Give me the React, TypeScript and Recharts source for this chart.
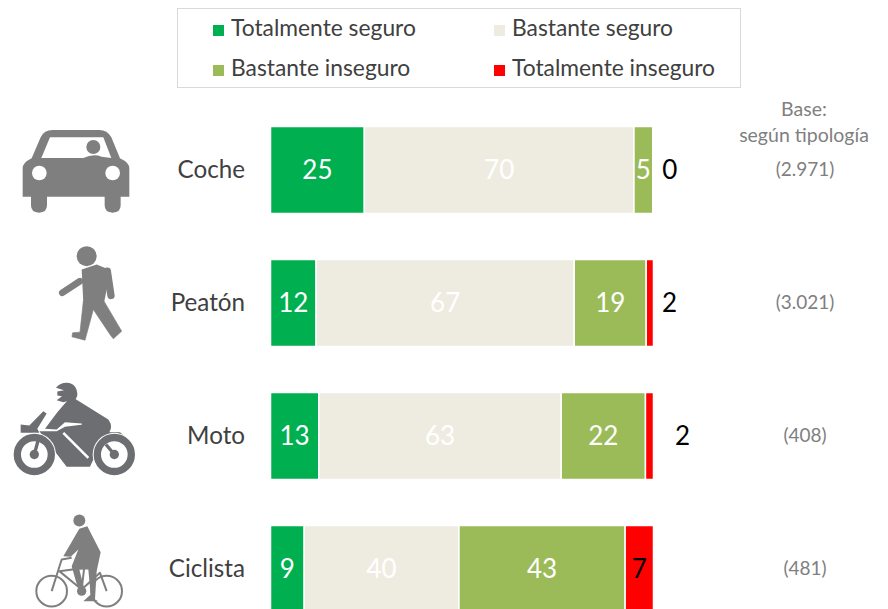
import { Bar, BarChart, LabelList, XAxis, YAxis } from "recharts"

const categories = ["Coche", "Peatón", "Moto", "Ciclista"]
const bases = ["(2.971)", "(3.021)", "(408)", "(481)"]
const totalmenteSeguro = [24.5, 11.9, 12.6, 8.8]
const bastanteSeguro = [70.4, 67.4, 63.3, 40.4]
const bastanteInseguro = [4.9, 18.8, 22, 43.4]
const totalmenteInseguro = [0.01, 1.9, 2.1, 7.4]

const seriesNames = ["Totalmente seguro", "Bastante seguro", "Bastante inseguro", "Totalmente inseguro"]
const seriesColors = ["#00b050", "#eeece1", "#9bbb59", "#ff0000"]

const data = categories.map((name, i) => ({
  name,
  base: bases[i],
  s1: totalmenteSeguro[i],
  s2: bastanteSeguro[i],
  s3: bastanteInseguro[i],
  s4: totalmenteInseguro[i],
}))

const font = "Lato, 'Open Sans', sans-serif"
const centers = [170, 303.5, 436.5, 569.5]
// red values that sit outside of the bar, px from the bar end
const outsideShift = [17, 16, 29, 0]

const CarIcon = () => (
  <g transform="translate(0,100) scale(0.3333)" fill="#7f7f7f">
    <path d="M68 205 Q68 188 95 175 L122 112 Q132 90 158 90 L298 90 Q322 90 334 112 L360 175 Q388 188 388 205 L388 290 L362 290 L362 316 Q362 338 338 338 Q314 338 314 316 L314 290 L141 290 L141 316 Q141 338 117 338 Q93 338 93 316 L93 290 L68 290 Z" />
    <path d="M124 174 L150 112 L310 112 L334 174 L305 170 Q280 160 250 174 Z" fill="#fff" />
    <circle cx="280" cy="141" r="21" />
    <circle cx="118" cy="219" r="22" fill="#fff" />
    <circle cx="338" cy="219" r="22" fill="#fff" />
  </g>
)

const WalkerIcon = () => (
  <g transform="translate(0,100) scale(0.3333)" stroke="#7f7f7f" fill="none" strokeLinecap="round" strokeLinejoin="round">
    <circle cx="260" cy="470" r="30" fill="#7f7f7f" stroke="none" />
    <path d="M245 510 L290 495 L332 512 L312 610 L250 610 Z" fill="#7f7f7f" stroke="none" />
    <path d="M240 545 L187 580" strokeWidth="20" />
    <path d="M322 515 L333 588" strokeWidth="22" />
    <path d="M250 605 L240 698 L218 700 L216 712 L255 722 L280 630 L330 705 L340 718 L365 695 L312 605 Z" fill="#7f7f7f" strokeWidth="2" />
  </g>
)

const MotoIcon = () => (
  <g transform="translate(0,370) scale(0.3333)" fill="#6d6e71">
    <path d="M168 55 Q180 40 200 40 Q232 42 232 78 L228 88 L190 98 L170 92 L186 80 L172 78 L172 66 L192 62 Z" />
    <path d="M172 128 L205 90 L225 88 L325 150 Q340 170 328 188 L250 188 L245 162 L195 158 L170 180 L135 178 Z" />
    <path d="M62 165 L88 168 L130 125 L140 132 L112 178 L118 190 L62 190 Z" />
    <path d="M118 185 L170 185 L195 172 L250 165 L330 188 L360 188 L392 215 L280 270 L270 292 L200 292 Z" />
    <path d="M190 190 L265 265" stroke="#fff" strokeWidth="8" />
    <circle cx="103" cy="255" r="65" fill="#fff" />
    <circle cx="343" cy="255" r="65" fill="#fff" />
    <circle cx="103" cy="255" r="51" fill="#fff" stroke="#6d6e71" strokeWidth="22" />
    <circle cx="343" cy="255" r="51" fill="#fff" stroke="#6d6e71" strokeWidth="22" />
    <circle cx="103" cy="255" r="14" />
    <circle cx="343" cy="255" r="14" />
    <path d="M103 255 L115 210 M343 255 L318 225" stroke="#6d6e71" strokeWidth="10" />
  </g>
)

const BikeIcon = () => (
  <g transform="translate(0,370) scale(0.3333)" fill="none" stroke="#7f7f7f" strokeLinejoin="round">
    <circle cx="155" cy="665" r="46" strokeWidth="6" />
    <circle cx="320" cy="665" r="46" strokeWidth="6" />
    <path d="M155 665 L185 570 L215 565 M178 605 L245 660 L300 610 L320 665 M178 605 L290 590 M255 575 L245 660" strokeWidth="6" />
    <circle cx="238" cy="453" r="18" fill="#7f7f7f" stroke="none" />
    <path d="M238 478 L262 470 L302 548 L290 605 L285 690 L295 695 L250 695 L272 675 L265 600 L238 600 L252 655 L232 650 L215 590 L235 540 L212 562 L190 560 Z" fill="#7f7f7f" stroke="none" />
    <circle cx="245" cy="665" r="14" fill="#7f7f7f" stroke="none" />
  </g>
)

const icons = [CarIcon, WalkerIcon, MotoIcon, BikeIcon]

const CategoryTick = ({ y, payload, index }: any) => {
  const Icon = icons[index]
  return (
    <g>
      <g transform={`translate(0,${y - centers[index]})`}>
        <Icon />
      </g>
      <text x={245} y={y} dy={8} textAnchor="end" fontSize={24.2} fill="#404040" fontFamily={font}>
        {payload.value}
      </text>
    </g>
  )
}

const BaseTick = ({ y, payload }: any) => (
  <text x={805} y={y} dy={6} textAnchor="middle" fontSize={19} fill="#7f7f7f" fontFamily={font}>
    {payload.value}
  </text>
)

const SegmentLabel = ({ x, y, width, height, value }: any) => (
  <text x={x + width / 2} y={y + height / 2} dy={9} textAnchor="middle" fontSize={26} fill="#fff" fontFamily={font}>
    {Math.round(value)}
  </text>
)

const RedLabel = ({ x, y, width, height, value, index }: any) => {
  const shift = outsideShift[index]
  const cx = shift ? x + width + shift : x + width / 2
  return (
    <text x={cx} y={y + height / 2} dy={9} textAnchor="middle" fontSize={26} fill="#000" fontFamily={font}>
      {Math.round(value)}
    </text>
  )
}

const legendSpots = [
  { left: 213, top: 21 },
  { left: 494, top: 21 },
  { left: 213, top: 61 },
  { left: 494, top: 61 },
]

export default function App() {
  return (
    <div style={{ position: "absolute", left: 0, top: 0, width: 888, height: 609, overflow: "hidden", background: "#fff" }}>
      <BarChart
        width={888}
        height={650}
        layout="vertical"
        data={data}
        margin={{ top: 103.5, right: 0, bottom: 14.5, left: 0 }}
      >
        <XAxis type="number" domain={[0, 100]} hide />
        <YAxis yAxisId="left" type="category" dataKey="name" width={270.5} axisLine={false} tickLine={false} tick={<CategoryTick />} interval={0} />
        <YAxis yAxisId="right" orientation="right" type="category" dataKey="base" width={234.5} axisLine={false} tickLine={false} tick={<BaseTick />} interval={0} />
        {["s1", "s2", "s3"].map((key, i) => (
          <Bar key={key} yAxisId="left" dataKey={key} stackId="a" barSize={87} fill={seriesColors[i]} stroke="#fff" strokeWidth={1.5} isAnimationActive={false}>
            <LabelList dataKey={key} content={<SegmentLabel />} />
          </Bar>
        ))}
        <Bar yAxisId="left" dataKey="s4" stackId="a" barSize={87} fill={seriesColors[3]} stroke="#fff" strokeWidth={1.5} isAnimationActive={false}>
          <LabelList dataKey="s4" content={<RedLabel />} />
        </Bar>
      </BarChart>
      <div style={{ position: "absolute", left: 177, top: 8, width: 562, height: 78, border: "1px solid #d9d9d9" }} />
      {seriesNames.map((name, i) => (
        <div key={name} style={{ position: "absolute", left: legendSpots[i].left, top: legendSpots[i].top, fontFamily: font, fontSize: 22.8, color: "#404040", lineHeight: "12px", whiteSpace: "nowrap" }}>
          <span style={{ display: "inline-block", width: 11, height: 11, background: seriesColors[i], marginRight: 7 }} />
          {name}
        </div>
      ))}
      <div style={{ position: "absolute", left: 724, top: 96, width: 160, textAlign: "center", fontFamily: font, fontSize: 19.5, lineHeight: "26px", color: "#7f7f7f" }}>
        Base:
        <br />
        según tipología
      </div>
    </div>
  )
}
